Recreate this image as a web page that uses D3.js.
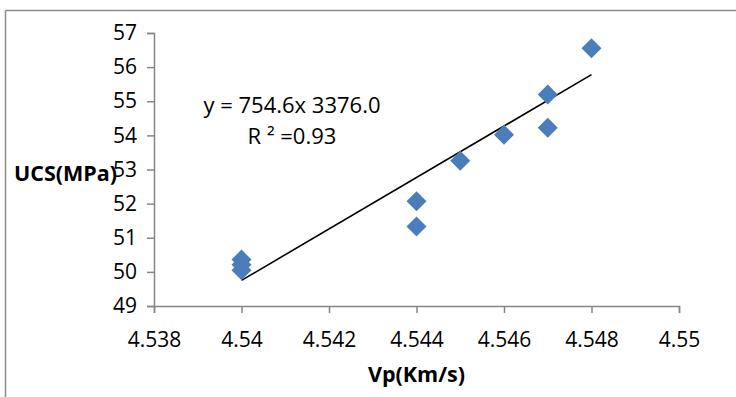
<!DOCTYPE html>
<html>
<head>
<meta charset="utf-8">
<script src="https://cdn.jsdelivr.net/npm/d3@7"></script>
<style>
  body { margin: 0; background: #fff; }
  svg { display: block; }
</style>
</head>
<body>
<div id="chart"></div>
<script>
// Vp (km/s) vs UCS (MPa) measured points
const vp = [4.54, 4.54, 4.54, 4.544, 4.544, 4.545, 4.546, 4.547, 4.547, 4.548];
const ucs = [50.36, 50.21, 50.05, 52.07, 51.33, 53.26, 54.02, 55.2, 54.22, 56.55];
// trend line end points as drawn
const trendX = [4.54, 4.548];
const trendY = [49.75, 55.78];
const xTicks = [4.538, 4.54, 4.542, 4.544, 4.546, 4.548, 4.55];
const yTicks = [49, 50, 51, 52, 53, 54, 55, 56, 57];
const eqLines = ["y = 754.6x 3376.0", "R \u00b2 =0.93"];

const width = 736, height = 397;
const margin = { top: 33, right: 57, bottom: 91, left: 154 };
const font = "'Open Sans', sans-serif";
const axisColor = "#868686";

const svg = d3.select("#chart")
  .append("svg")
  .attr("width", width)
  .attr("height", height);

// chart frame (only top and left edges are inside the picture)
svg.append("line")
  .attr("x1", 5.5).attr("x2", width)
  .attr("y1", 10.5).attr("y2", 10.5)
  .attr("stroke", "#8c8c8c").attr("stroke-width", 1.5);
svg.append("line")
  .attr("x1", 5.5).attr("x2", 5.5)
  .attr("y1", 10.5).attr("y2", height)
  .attr("stroke", "#8c8c8c").attr("stroke-width", 1.5);

const x = d3.scaleLinear()
  .domain([4.538, 4.55])
  .range([margin.left, width - margin.right]);
const y = d3.scaleLinear()
  .domain([49, 57])
  .range([height - margin.bottom, margin.top]);

const xAxis = svg.append("g")
  .attr("transform", `translate(0,${height - margin.bottom})`)
  .call(d3.axisBottom(x).tickValues(xTicks).tickSize(7).tickPadding(10)
    .tickFormat(d => String(+d.toFixed(3))));
const yAxis = svg.append("g")
  .attr("transform", `translate(${margin.left},0)`)
  .call(d3.axisLeft(y).tickValues(yTicks).tickSize(7).tickPadding(10)
    .tickFormat(d3.format("d")));

[xAxis, yAxis].forEach(g => {
  g.select(".domain").attr("stroke", axisColor).attr("stroke-width", 1.5);
  g.selectAll(".tick line").attr("stroke", axisColor).attr("stroke-width", 1.5);
  g.selectAll("text")
    .style("font-family", font)
    .style("font-size", "21px")
    .attr("fill", "#000");
});
xAxis.selectAll("text").attr("dy", "1.15em");

// trend line
svg.append("line")
  .attr("x1", x(trendX[0])).attr("y1", y(trendY[0]))
  .attr("x2", x(trendX[1])).attr("y2", y(trendY[1]))
  .attr("stroke", "#000").attr("stroke-width", 1.6);

// points
const diamond = d3.symbol().type(d3.symbolSquare).size(200);
svg.append("g")
  .selectAll("path")
  .data(vp.map((v, i) => [v, ucs[i]]))
  .join("path")
  .attr("d", diamond)
  .attr("transform", d => `translate(${x(d[0])},${y(d[1])}) rotate(45)`)
  .attr("fill", "#4a7ebb");

// equation label
svg.append("text")
  .attr("x", 292).attr("y", 113)
  .attr("text-anchor", "middle")
  .style("font-family", font).style("font-size", "22px")
  .text(eqLines[0]);
svg.append("text")
  .attr("x", 292).attr("y", 144)
  .attr("text-anchor", "middle")
  .style("font-family", font).style("font-size", "22px")
  .text(eqLines[1]);

// axis titles
svg.append("text")
  .attr("x", 14).attr("y", 181)
  .style("font-family", font).style("font-size", "21.5px")
  .style("font-weight", "bold")
  .text("UCS(MPa)");
svg.append("text")
  .attr("x", (x.range()[0] + x.range()[1]) / 2).attr("y", 382)
  .attr("text-anchor", "middle")
  .style("font-family", font).style("font-size", "21.5px")
  .style("font-weight", "bold")
  .text("Vp(Km/s)");
</script>
</body>
</html>
